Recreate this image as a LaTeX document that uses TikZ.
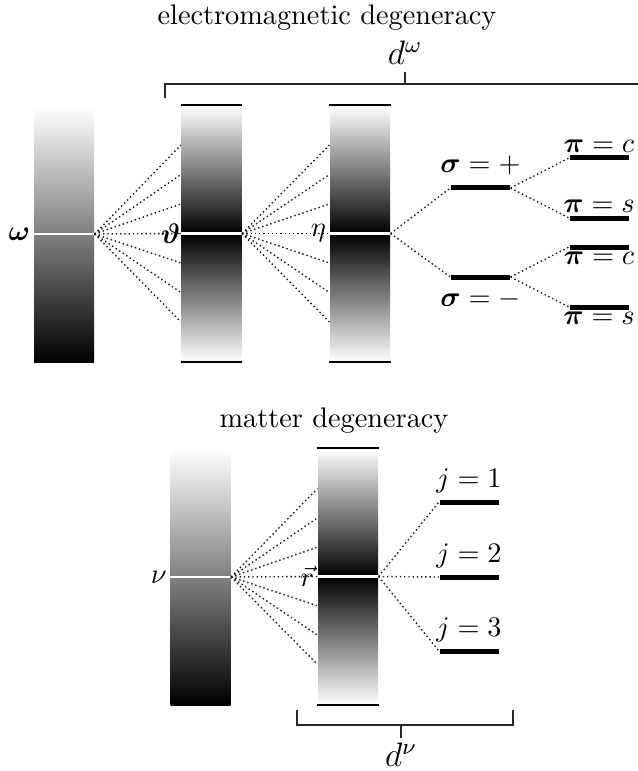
\documentclass[tikz,border=0pt]{standalone}
\usepackage{amsmath,amssymb,bm}
\usetikzlibrary{positioning,calc}

\begin{document}
\begin{tikzpicture}[x=0.3535pt, y=0.3535pt,
    gbar/.style={draw=none, inner sep=0pt, minimum width=60*0.3535pt, minimum height=256*0.3535pt},
    level/.style={fill=black, inner sep=0pt, minimum width=59*0.3535pt, minimum height=5*0.3535pt},
    fan/.style={densely dotted, black!90, line width=0.5pt},
    midline/.style={white, line width=1pt},
    capline/.style={black, line width=0.6pt},
    brace/.style={black!85, line width=0.5pt}]
    \useasboundingbox (0,0) rectangle (638,-771);

    % --- electromagnetic degeneracy ---
    \node (emtitle) at (327,-18) {electromagnetic degeneracy};
    \node[gbar, top color=white, bottom color=black] (om) at (64,-234) {};
    \node[gbar, top color=white, bottom color=white, middle color=black] (th) at (211.5,-233.5) {};
    \node[gbar, top color=white, bottom color=white, middle color=black] (eta) at (360,-233.5) {};
    \foreach \b in {om,th,eta}
      \draw[midline] (\b.west) -- (\b.east);
    \foreach \b in {th,eta} {
      \draw[capline] (\b.north west) -- (\b.north east);
      \draw[capline] (\b.south west) -- (\b.south east);
    }
    \node[anchor=east, inner sep=1pt] (omlab) at (om.west) {$\bm{\omega}$};
    \node[anchor=east, inner sep=0pt] (thlab) at (th.west) {$\bm{\vartheta}$};
    \node[anchor=east, inner sep=1pt] (etalab) at (eta.west) {$\eta$};
    % --- fans between the bands ---
    \foreach \k in {1,...,7} {
      \coordinate (th\k) at ($(th.west)+(0,{(4-\k)*29.5})$);
      \coordinate (eta\k) at ($(eta.west)+(0,{(4-\k)*29.5})$);
    }
    \foreach \k in {1,...,7} {
      \draw[fan] (om.east) -- (th\k);
      \draw[fan] (th.east) -- (eta\k);
    }
    % --- sigma and pi levels ---
    \node[level] (sp) at (480.5,-188) {};
    \node[level] (sm) at (480.5,-277) {};
    \node[level] (pc1) at (599,-158) {};
    \node[level] (ps1) at (599,-218) {};
    \node[level] (pc2) at (599,-247) {};
    \node[level] (ps2) at (599,-307) {};
    \node[above=0pt of sp] (splab) {$\bm{\sigma}=+$};
    \node[below=0pt of sm] (smlab) {$\bm{\sigma}=-$};
    \node[above=-2.5pt of pc1] (pc1lab) {$\bm{\pi}=c$};
    \node[above=-2.5pt of ps1] (ps1lab) {$\bm{\pi}=s$};
    \node[below=-3pt of pc2] (pc2lab) {$\bm{\pi}=c$};
    \node[below=-3pt of ps2] (ps2lab) {$\bm{\pi}=s$};
    \draw[fan] (eta.east) -- (sp.west);
    \draw[fan] (eta.east) -- (sm.west);
    \draw[fan] (sp.east) -- (pc1.west);
    \draw[fan] (sp.east) -- (ps1.west);
    \draw[fan] (sm.east) -- (pc2.west);
    \draw[fan] (sm.east) -- (ps2.west);
    % --- bracket d^omega ---
    \coordinate (dwl) at (165,-98);
    \coordinate (dwm) at (405,-84);
    \draw[brace] (dwl) -- (165,-84) -- (638,-84);
    \draw[brace] (dwm) -- ++(0,12) coordinate (dwt);
    \node[above=-1pt of dwt, font=\large] (dwlab) {$d^{\omega}$};

    % --- matter degeneracy ---
    \node (mtitle) at (334,-421) {matter degeneracy};
    \node[gbar, top color=white, bottom color=black] (nu) at (200.5,-577) {};
    \node[gbar, top color=white, bottom color=white, middle color=black] (rr) at (348,-576.5) {};
    \foreach \b in {nu,rr}
      \draw[midline] (\b.west) -- (\b.east);
    \draw[capline] (rr.north west) -- (rr.north east);
    \draw[capline] (rr.south west) -- (rr.south east);
    \node[anchor=east, inner sep=1pt] (nulab) at (nu.west) {$\nu$};
    \node[anchor=east, inner sep=1pt] (rrlab) at (rr.west) {$\vec{r}$};
    \foreach \k in {1,...,7}
      \coordinate (rr\k) at ($(rr.west)+(0,{(4-\k)*29.3})$);
    \foreach \k in {1,...,7}
      \draw[fan] (nu.east) -- (rr\k);
    % --- j levels ---
    \node[level] (j1) at (469,-502) {};
    \node[level] (j2) at (469,-577) {};
    \node[level] (j3) at (469,-651) {};
    \foreach \j in {1,2,3} {
      \node[above=-1.5pt of j\j] (j\j lab) {$j=\j$};
      \draw[fan] (rr.east) -- (j\j.west);
    }
    % --- bracket d^nu ---
    \coordinate (dnl) at (297,-710);
    \coordinate (dnr) at (513,-710);
    \draw[brace] (dnl) -- (297,-725) -- (513,-725) -- (dnr);
    \draw[brace] (401,-725) -- ++(0,-13) coordinate (dnb);
    \node[below=1pt of dnb, font=\large, inner sep=0.5pt] (dnlab) {$d^{\nu}$};
\end{tikzpicture}
\end{document}
